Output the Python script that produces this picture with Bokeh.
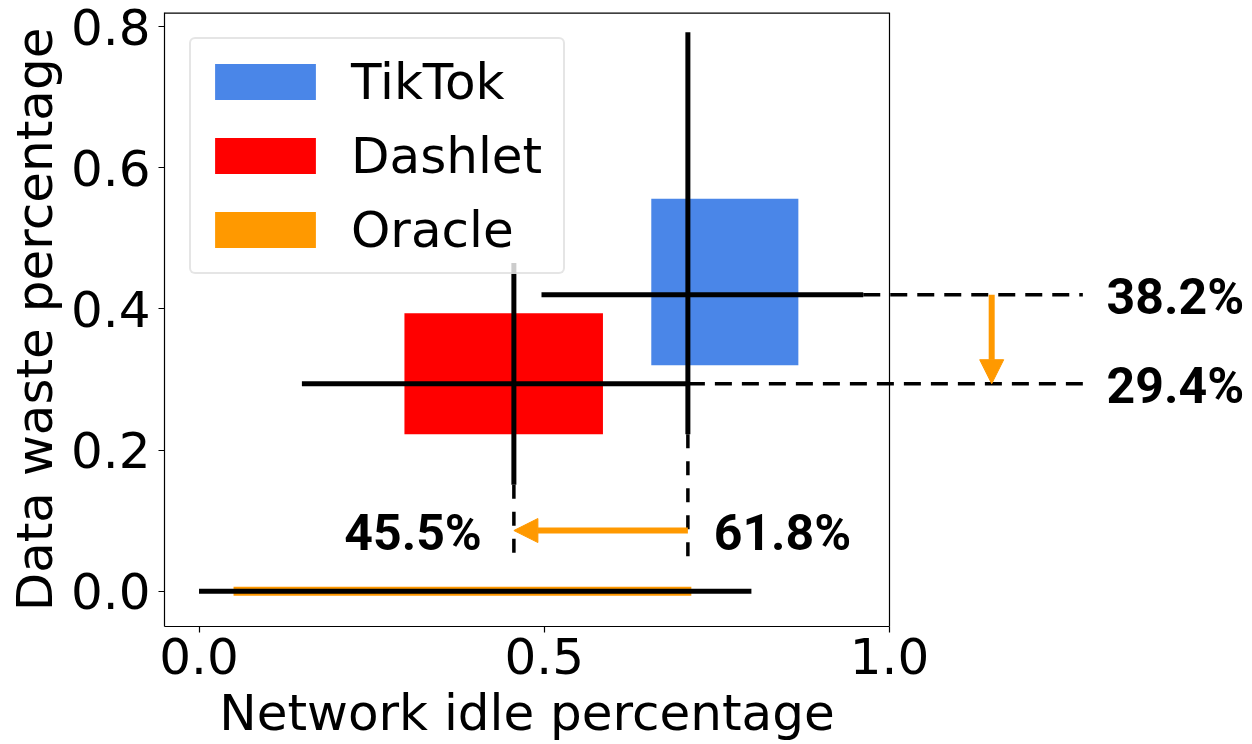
from bokeh.plotting import figure
from bokeh.models import (FixedTicker, Range1d, Arrow, NormalHead, Legend, LegendItem,
                          PrintfTickFormatter, LinearAxis, Span)
from bokeh.core.properties import value
from bokeh.embed import file_html
from bokeh.resources import INLINE

# ---------------- data ----------------
systems = ["TikTok", "Dashlet", "Oracle"]
colors = ["#4a86e8", "#ff0000", "#ff9900"]

# boxes (network idle range x data waste range)
idle_lo = [0.655, 0.2975, 0.05]
idle_hi = [0.868, 0.585, 0.713]
waste_lo = [0.320, 0.2225, 0.0]
waste_hi = [0.556, 0.394, 0.0]

# cross whiskers: horizontal (idle) for all three
h_y = [0.420, 0.294, 0.0]
h_x_lo = [0.496, 0.149, 0.0]
h_x_hi = [0.962, 0.708, 0.8]
# vertical (waste) whiskers for TikTok and Dashlet
v_x = [0.708, 0.456]
v_y_lo = [0.2225, 0.151]
v_y_hi = [0.792, 0.465]

# annotation values
waste_labels = ["38.2%", "29.4%"]
idle_labels = ["61.8%", "45.5%"]
guide_end_x = 1.28
guide_end_y = 0.046
arrow_x = 1.148
arrow_y = 0.086
waste_label_x = 1.414
idle_label_x = [0.845, 0.310]

x_ticks = [0.0, 0.5, 1.0]
y_ticks = [0.0, 0.2, 0.4, 0.6, 0.8]
x_title = "Network idle percentage"
y_title = "Data waste percentage"

XL, XR = -0.05, 1.0          # axes limits
YB, YT = -0.05, 0.82
FONT = "DejaVu Sans"

W, H = 1250, 744
LEFT, TOP, BOTTOM = 164, 12, 116
PX_PER_UNIT = 725 / (XR - XL)
X_END = XL + (W - LEFT) / PX_PER_UNIT   # canvas extends beyond the axes for annotations

p = figure(width=W, height=H, output_backend="svg", toolbar_location=None,
           x_range=Range1d(XL, X_END), y_range=Range1d(YB, YT),
           min_border_left=LEFT, min_border_right=0, min_border_top=TOP,
           min_border_bottom=BOTTOM)
p.outline_line_color = None
p.grid.visible = False


def style_axis(ax):
    ax.major_label_text_font = FONT
    ax.major_label_text_font_size = "50px"
    ax.major_label_text_color = "black"
    ax.axis_label_text_font = FONT
    ax.axis_label_text_font_size = "50px"
    ax.axis_label_text_font_style = "normal"
    ax.axis_label_text_color = "black"
    ax.major_tick_out = 6
    ax.major_tick_in = 0
    ax.minor_tick_out = 0
    ax.minor_tick_in = 0
    ax.axis_line_color = "black"
    ax.major_tick_line_color = "black"
    ax.axis_line_width = 1.2
    ax.major_tick_line_width = 1.2


xa = p.xaxis[0]
ya = p.yaxis[0]
style_axis(xa)
style_axis(ya)
xa.ticker = FixedTicker(ticks=x_ticks)
ya.ticker = FixedTicker(ticks=y_ticks)
xa.formatter = PrintfTickFormatter(format="%.1f")
ya.formatter = PrintfTickFormatter(format="%.1f")
xa.bounds = (XL, XR)
xa.major_label_standoff = 5
ya.axis_label = y_title
ya.major_label_standoff = 8
ya.axis_label_standoff = 4

# x-axis title, centred under the axes (not under the wider canvas)
title_x = (XL + XR) / 2
xt = LinearAxis(ticker=FixedTicker(ticks=[title_x]),
                major_label_overrides={title_x: x_title})
style_axis(xt)
xt.axis_line_color = None
xt.major_tick_line_color = None
xt.major_tick_out = 0
xt.major_label_standoff = 7
p.add_layout(xt, "below")

# right and top spines
p.add_layout(Span(location=XR, dimension="height", line_color="black", line_width=1.2))
p.segment(x0=[XL], y0=[YT], x1=[XR], y1=[YT], line_color="black", line_width=2.4)

# boxes
r_t = p.quad(left=[idle_lo[0]], right=[idle_hi[0]], bottom=[waste_lo[0]], top=[waste_hi[0]],
             fill_color=colors[0], line_color=None)
r_d = p.quad(left=[idle_lo[1]], right=[idle_hi[1]], bottom=[waste_lo[1]], top=[waste_hi[1]],
             fill_color=colors[1], line_color=None)
# oracle: zero-height box drawn as a thin bar
r_o = p.rect(x=[(idle_lo[2] + idle_hi[2]) / 2], y=[(waste_lo[2] + waste_hi[2]) / 2],
             width=[idle_hi[2] - idle_lo[2]], height=9, height_units="screen",
             fill_color=colors[2], line_color=None)

# whiskers
p.segment(x0=h_x_lo, y0=h_y, x1=h_x_hi, y1=h_y, line_color="black", line_width=5)
p.segment(x0=v_x, y0=v_y_lo, x1=v_x, y1=v_y_hi, line_color="black", line_width=5)

# dashed guides
p.segment(x0=h_x_hi[:2], y0=h_y[:2], x1=[guide_end_x] * 2, y1=h_y[:2],
          line_color="black", line_width=3.5, line_dash="17 10")
p.segment(x0=v_x, y0=v_y_lo, x1=v_x, y1=[guide_end_y] * 2,
          line_color="black", line_width=3.5, line_dash="14 13")

# arrows
for xs, ys, xe, ye in [(v_x[0], arrow_y, v_x[1], arrow_y),
                       (arrow_x, h_y[0], arrow_x, h_y[1])]:
    p.add_layout(Arrow(x_start=xs, y_start=ys, x_end=xe, y_end=ye,
                       line_color=colors[2], line_width=6,
                       end=NormalHead(size=24, fill_color=colors[2], line_color=colors[2],
                                      line_width=1)))

# percentage labels
lab_style = dict(text_font=value("Roboto"), text_font_style="bold", text_font_size="50px",
                 text_align="center", text_baseline="middle", text_color="black", y_offset=2)
p.text(x=idle_label_x, y=[arrow_y, arrow_y], text=idle_labels, **lab_style)
p.text(x=[waste_label_x, waste_label_x], y=h_y[:2], text=waste_labels, **lab_style)

# legend
legend = Legend(items=[LegendItem(label=systems[0], renderers=[r_t]),
                       LegendItem(label=systems[1], renderers=[r_d]),
                       LegendItem(label=systems[2], renderers=[r_o])],
                location="top_left")
legend.margin = 25
legend.padding = 11
legend.spacing = 11
legend.glyph_width = 126
legend.glyph_height = 45
legend.label_height = 63
legend.label_standoff = 23
legend.label_width = 201
legend.label_text_font = FONT
legend.label_text_font_size = "50px"
legend.label_text_color = "black"
legend.border_line_color = "#cccccc"
legend.border_line_width = 2
legend.background_fill_color = "white"
legend.background_fill_alpha = 0.8
if "border_radius" in Legend.properties():
    legend.border_radius = 6
p.add_layout(legend)

open("out.html", "w").write(file_html(p, INLINE))
